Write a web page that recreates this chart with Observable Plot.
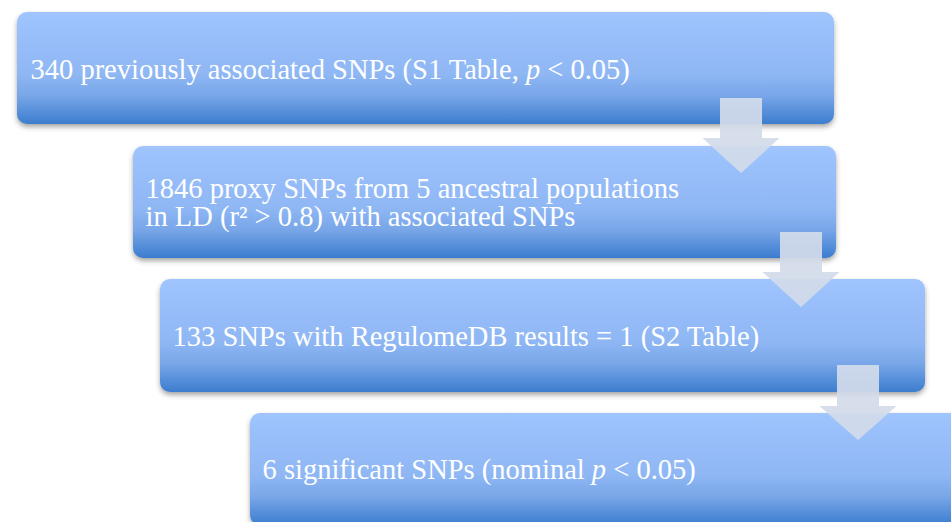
<!DOCTYPE html>
<html>
<head>
<meta charset="utf-8">
<script src="https://cdn.jsdelivr.net/npm/d3@7"></script>
<script src="https://cdn.jsdelivr.net/npm/@observablehq/plot@0.6"></script>
<style>
  html, body { margin: 0; padding: 0; background: #fff; overflow: hidden; }
</style>
</head>
<body>
<div id="chart"></div>
<script>
// Flow steps (text of each box)
const stepLabels = [
  "340 previously associated SNPs (S1 Table, p < 0.05)",
  "1846 proxy SNPs from 5 ancestral populations\nin LD (r² > 0.8) with associated SNPs",
  "133 SNPs with RegulomeDB results = 1 (S2 Table)",
  "6 significant SNPs (nominal p < 0.05)"
];
// Box layout (pixel space of the diagram)
const boxLeft   = [17, 133, 160, 250];
const boxRight  = [834, 836, 925, 965];
const boxTop    = [12, 146, 279, 413];
const boxBottom = [124, 258, 392, 525];
const textLeft  = [30, 145, 172, 262];
const textBase  = [78, 225, 345, 478];
// Connecting arrows
const arrowCenter    = [741, 801, 858];
const arrowShaftTop  = [98, 232, 365];
const arrowHeadTop   = [138, 272, 406];
const arrowTip       = [173, 307, 440];
const arrowHalfHead  = 38.5;
const arrowHalfShaft = 21;

const boxes = stepLabels.map((label, i) => ({
  label, x1: boxLeft[i], x2: boxRight[i], y1: boxTop[i], y2: boxBottom[i],
  tx: textLeft[i], ty: textBase[i]
}));

const arrowPts = [];
arrowCenter.forEach((cx, k) => {
  const h = arrowHeadTop[k], p = arrowTip[k], t = arrowShaftTop[k];
  const lower = dx => p - (p - h) * Math.abs(dx) / arrowHalfHead;
  const pts = [
    [-arrowHalfHead, h, h],
    [-arrowHalfShaft, h, lower(arrowHalfShaft)],
    [-arrowHalfShaft, t, lower(arrowHalfShaft)],
    [0, t, p],
    [arrowHalfShaft, t, lower(arrowHalfShaft)],
    [arrowHalfShaft, h, lower(arrowHalfShaft)],
    [arrowHalfHead, h, h]
  ];
  pts.forEach(([dx, y1, y2]) => arrowPts.push({k, x: cx + dx, y1, y2}));
});

const NS = "http://www.w3.org/2000/svg";
function defs() {
  const g = document.createElementNS(NS, "defs");
  g.innerHTML = `
    <linearGradient id="boxGrad" x1="0" y1="0" x2="0" y2="1">
      <stop offset="0" stop-color="#9fc4fe"/>
      <stop offset="0.55" stop-color="#8fb7f4"/>
      <stop offset="0.75" stop-color="#78a6e8"/>
      <stop offset="1" stop-color="#3c7dce"/>
    </linearGradient>
    <filter id="shadow" x="-5%" y="-20%" width="110%" height="150%">
      <feDropShadow dx="0" dy="3" stdDeviation="2.5" flood-color="#3a3a3a" flood-opacity="0.45"/>
    </filter>`;
  return g;
}

const plot = Plot.plot({
  width: 951,
  height: 522,
  margin: 0,
  x: {domain: [0, 951], range: [0, 951], axis: null},
  y: {domain: [0, 522], range: [0, 522], axis: null},
  style: {background: "#ffffff", overflow: "hidden"},
  marks: [
    defs,
    Plot.rect(boxes, {x1: "x1", x2: "x2", y1: "y1", y2: "y2", rx: 10, fill: "url(#boxGrad)"}),
    Plot.areaY(arrowPts, {x: "x", y1: "y1", y2: "y2", z: "k", fill: "#d3dbea", fillOpacity: 0.92, curve: "linear"}),
    Plot.text(boxes, {
      x: "tx", y: "ty", text: "label", textAnchor: "start", lineAnchor: "bottom",
      fill: "#ffffff", fontSize: 28.5, lineHeight: 0.98,
      fontFamily: "'Liberation Serif', 'DejaVu Serif', serif"
    })
  ]
});

// drop shadow on boxes
plot.querySelectorAll("g[aria-label='rect']").forEach(g => g.setAttribute("filter", "url(#shadow)"));
// italic p
plot.querySelectorAll("g[aria-label='text'] text, g[aria-label='text'] tspan").forEach(el => {
  if (el.children.length === 0 && /\bp </.test(el.textContent)) {
    const s = el.textContent;
    const i = s.search(/\bp </);
    el.textContent = "";
    el.appendChild(document.createTextNode(s.slice(0, i)));
    const it = document.createElementNS(NS, "tspan");
    it.setAttribute("font-style", "italic");
    it.textContent = "p";
    el.appendChild(it);
    el.appendChild(document.createTextNode(s.slice(i + 1)));
  }
});

document.getElementById("chart").appendChild(plot);
</script>
</body>
</html>
